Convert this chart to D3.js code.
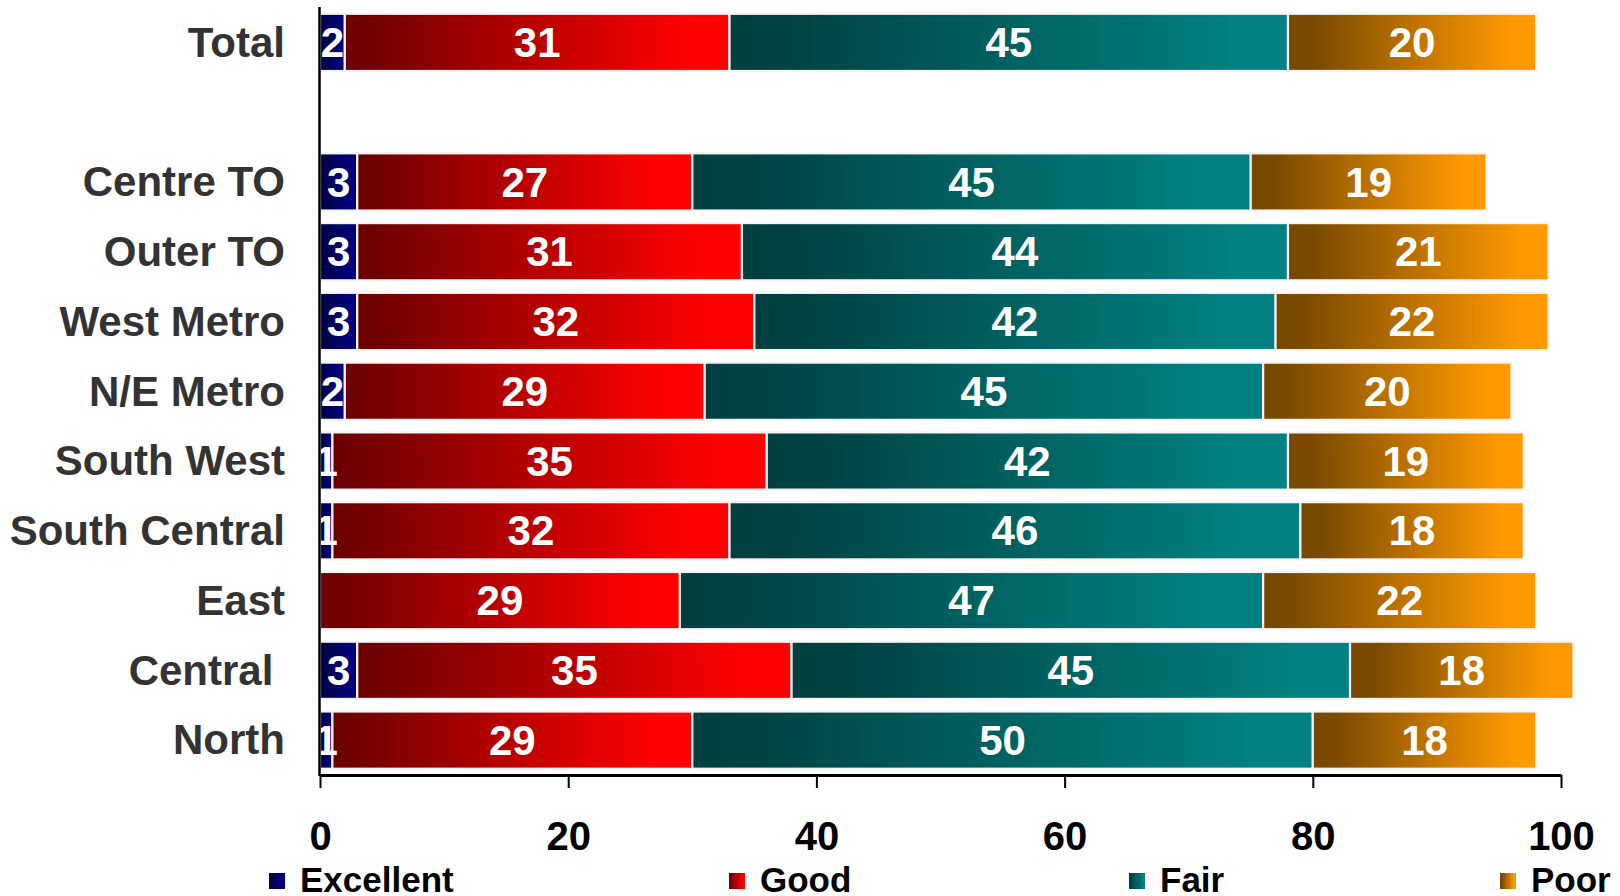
<!DOCTYPE html>
<html>
<head>
<meta charset="utf-8">
<script src="https://cdn.jsdelivr.net/npm/d3@7"></script>
<style>
  html, body { margin: 0; padding: 0; background: #fff; overflow: hidden; }
  svg { display: block; font-family: Arial, "Liberation Sans", sans-serif; }
</style>
</head>
<body>
<div id="chart"></div>
<script>
// data
const categories = ["Total", "Centre TO", "Outer TO", "West Metro", "N/E Metro", "South West", "South Central", "East", "Central\u00a0", "North"];
const series = ["Excellent", "Good", "Fair", "Poor"];
const excellent = [2, 3, 3, 3, 2, 1, 1, 0, 3, 1];
const good = [31, 27, 31, 32, 29, 35, 32, 29, 35, 29];
const fair = [45, 45, 44, 42, 45, 42, 46, 47, 45, 50];
const poor = [20, 19, 21, 22, 20, 19, 18, 22, 18, 18];
const xTicks = [0, 20, 40, 60, 80, 100];

// gradient ends per series (dark -> light)
const gradStops = {
  Excellent: ["#00003e", "#00004a", "#000080"],
  Good: ["#6a0000", "#780000", "#ff0000"],
  Fair: ["#003f3f", "#004242", "#008080"],
  Poor: ["#784800", "#7a4a00", "#ff9900"]
};

const width = 1620, height = 896;
const spacer = "__gap__";

const rows = categories.map((c, i) => ({
  cat: c, Excellent: excellent[i], Good: good[i], Fair: fair[i], Poor: poor[i]
}));

const svg = d3.select("#chart").append("svg")
    .attr("width", width)
    .attr("height", height);

const defs = svg.append("defs");
series.forEach(s => {
  const g = defs.append("linearGradient")
      .attr("id", "grad-" + s)
      .attr("x1", "0%").attr("x2", "100%")
      .attr("y1", "0%").attr("y2", "0%");
  const c = gradStops[s];
  g.append("stop").attr("offset", "0%").attr("stop-color", c[0]);
  g.append("stop").attr("offset", "10%").attr("stop-color", c[1]);
  g.append("stop").attr("offset", "90%").attr("stop-color", c[2]);
  g.append("stop").attr("offset", "100%").attr("stop-color", c[2]);
});

const x = d3.scaleLinear()
    .domain([0, 100])
    .range([320, 1561]);

const y = d3.scaleBand()
    .domain([categories[0], spacer].concat(categories.slice(1)))
    .range([7.5, 775])
    .paddingInner(0.18)
    .paddingOuter(0.09);

const stacked = d3.stack().keys(series)(rows);

// bars
const layers = svg.append("g").classed("bars", true)
  .selectAll("g")
  .data(stacked)
  .join("g")
    .attr("fill", d => "url(#grad-" + d.key + ")");

layers.selectAll("rect")
  .data(d => d.filter(p => p[1] - p[0] > 0))
  .join("rect")
    .attr("x", d => x(d[0]))
    .attr("y", d => y(d.data.cat))
    .attr("width", d => x(d[1]) - x(d[0]))
    .attr("height", y.bandwidth())
    .attr("stroke", "#f4f4f4")
    .attr("stroke-width", 2.2);

// value labels
stacked.forEach(layer => {
  svg.append("g").classed("labels", true)
    .selectAll("text")
    .data(layer.filter(p => p[1] - p[0] > 0))
    .join("text")
      .attr("x", d => (x(d[0]) + x(d[1])) / 2)
      .attr("y", d => y(d.data.cat) + y.bandwidth() / 2)
      .attr("dy", "0.35em")
      .attr("text-anchor", "middle")
      .attr("fill", "#fff")
      .style("font-size", "42px")
      .style("font-weight", "bold")
      .text(d => d[1] - d[0]);
});

// category labels
svg.append("g").classed("cat-labels", true)
  .selectAll("text")
  .data(categories)
  .join("text")
    .attr("x", 285)
    .attr("y", d => y(d) + y.bandwidth() / 2)
    .attr("dy", "0.34em")
    .attr("text-anchor", "end")
    .attr("fill", "#333")
    .style("font-size", "42px")
    .style("font-weight", "bold")
    .style("white-space", "pre")
    .text(d => d);

// vertical axis line
svg.append("line")
    .attr("x1", 319.5).attr("x2", 319.5)
    .attr("y1", 7).attr("y2", 776)
    .attr("stroke", "#000")
    .attr("stroke-width", 2.5);

// bottom axis
const xAxis = d3.axisBottom(x)
    .tickValues(xTicks)
    .tickSize(13)
    .tickPadding(34)
    .tickSizeOuter(0);

const xAxisEl = svg.append("g").classed("x-axis", true)
    .attr("transform", "translate(0,775)")
    .call(xAxis);

xAxisEl.select(".domain").attr("stroke-width", 3.2);
xAxisEl.selectAll(".tick line").attr("stroke-width", 2);
xAxisEl.selectAll(".tick text")
    .attr("fill", "#000")
    .style("font-size", "40px")
    .style("font-weight", "bold")
    .style("font-family", "Arial, 'Liberation Sans', sans-serif");

// legend
const legendX = [269, 729, 1129, 1500];
const legend = svg.append("g").classed("legend", true)
  .selectAll("g")
  .data(series)
  .join("g")
    .attr("transform", (d, i) => "translate(" + legendX[i] + ",0)");

legend.append("rect")
    .attr("x", 0).attr("y", 873)
    .attr("width", 16).attr("height", 16)
    .attr("fill", d => "url(#grad-" + d + ")");

legend.append("text")
    .attr("x", 31).attr("y", 892)
    .attr("fill", "#000")
    .style("font-size", "35px")
    .style("font-weight", "bold")
    .text(d => d);
</script>
</body>
</html>
